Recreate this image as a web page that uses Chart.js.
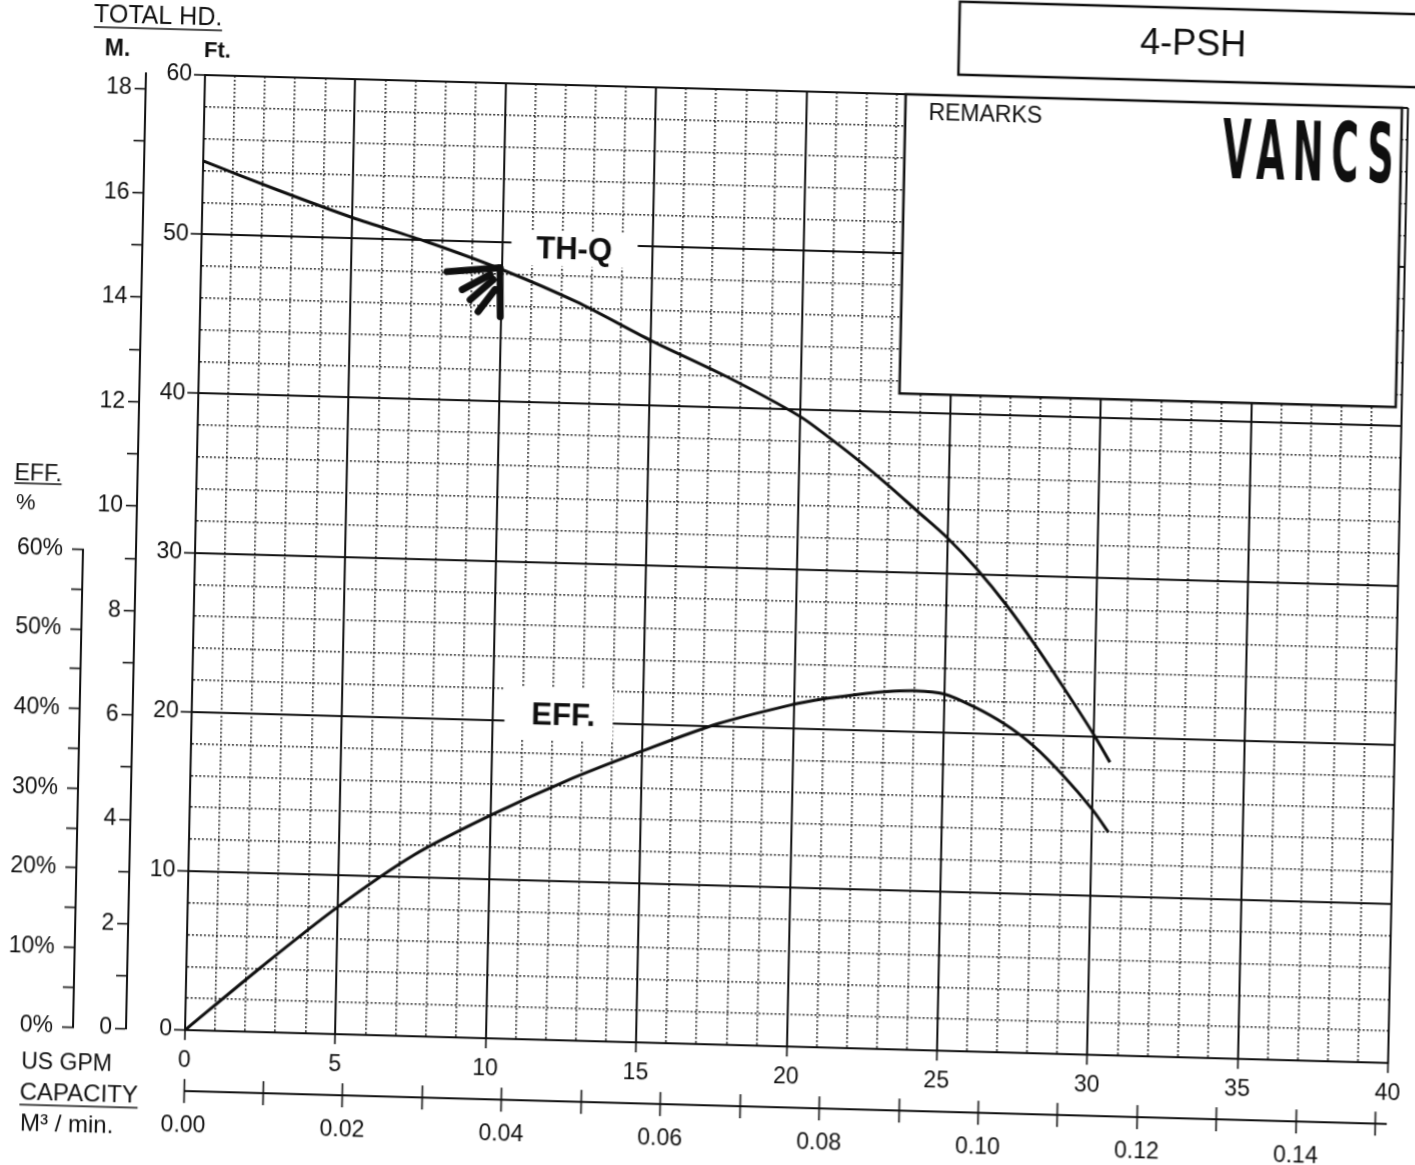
<!DOCTYPE html>
<html lang="en">
<head>
<meta charset="UTF-8">
<meta name="viewport" content="width=device-width, initial-scale=1.0">
<title>4-PSH</title>
<script src="https://cdn.jsdelivr.net/npm/chart.js@4.4.2/dist/chart.umd.min.js"></script>
<style>
    html, body { margin: 0; padding: 0; background: #fff; overflow: hidden; }
    /* the sheet was scanned a little crooked, so the whole drawing is tilted the same way */
    #sheet {
        position: absolute; left: 0; top: -40px;
        width: 1440px; height: 1245px;
        background: #fff;
        transform-origin: 185px 1070px;
        transform: matrix(1, 0.0274, -0.0209, 1, 0, 0);
    }
</style>
</head>
<body>

<div id="sheet"><canvas id="pumpchart"></canvas></div>

<script>
    // values
    const flowGpm = [0, 2.5, 5, 7.5, 10, 12.5, 15, 17.5, 20, 21, 22, 23, 24, 25, 26, 27, 28, 29, 30, 30.55];
    const headFt  = [54.6, 52.9, 51.3, 49.9, 48.3, 46.4, 44.1, 42.0, 39.6, 38.3, 36.9, 35.4, 33.8, 32.2, 30.3, 28.1, 25.6, 22.9, 20.1, 18.4];
    const effPct  = [0, 8.2, 16, 22.8, 28, 32.6, 36.6, 40.3, 43, 43.8, 44.4, 44.9, 45.1, 44.8, 43.3, 41.3, 38.6, 35, 30.8, 28];

    // tick labels
    const gpmTicks = [0, 5, 10, 15, 20, 25, 30, 35, 40];
    const ftTicks  = [0, 10, 20, 30, 40, 50, 60];
    const mTicks   = [0, 2, 4, 6, 8, 10, 12, 14, 16, 18];
    const effTicks = [0, 10, 20, 30, 40, 50, 60];
    const capTicks = ['0.00', '0.02', '0.04', '0.06', '0.08', '0.10', '0.12', '0.14'];

    const FT_PER_M = 3.28084;
    const M3MIN_PER_GPM = 0.00378541;

    const ink = '#0f0f0f';
    const face = '"Liberation Sans", Arial, sans-serif';
    const dotted = [1.8, 2.2];

    const isStep = (v, step) => Math.abs(v / step - Math.round(v / step)) < 1e-6;
    const steps = (n, step) => Array.from({length: n + 1}, (_, i) => ({value: +(i * step).toFixed(4)}));

    // solid lines on major steps, dotted in between
    function sheetGrid(step, tickLength) {
        return {
            color: c => c.tick && isStep(c.tick.value, step) ? ink : '#111',
            lineWidth: c => c.tick && isStep(c.tick.value, step) ? 2 : 1.6,
            tickColor: c => c.tick && isStep(c.tick.value, step) ? ink : 'rgba(0,0,0,0)',
            tickWidth: 1.6,
            tickLength: tickLength
        };
    }
    function sheetBorder(step) {
        return {
            color: ink, width: 2,
            dash: c => c.tick && !isStep(c.tick.value, step) ? dotted : []
        };
    }

    function write(ctx, str, x, y, size, opts) {
        opts = opts || {};
        const align = opts.align || 'center';
        ctx.font = (opts.bold ? 'bold ' : '') + size + 'px ' + face;
        ctx.textAlign = align;
        ctx.textBaseline = 'middle';
        ctx.fillStyle = ink;
        ctx.fillText(str, x, y);
        if (opts.underline) {
            const w = ctx.measureText(str).width;
            const x0 = align === 'center' ? x - w / 2 : (align === 'right' ? x - w : x);
            ctx.strokeStyle = ink;
            ctx.lineWidth = 1.6;
            ctx.beginPath();
            ctx.moveTo(x0, y + opts.underline);
            ctx.lineTo(x0 + w, y + opts.underline);
            ctx.stroke();
        }
    }

    // white gaps where the curve names sit on the grid: [gpm0, gpm1, ft0, ft1]
    const thqGap = [10.3, 14.5, 48.6, 50.7];
    const effGap = [10.4, 14.0, 18.85, 22.1];
    const remarksBox = [23.3, 39.8, 41.2, 60];
    // the pen mark next to the TH-Q curve
    const penMark = [
        [[8.18, 48.07], [9.94, 48.41]],
        [[9.94, 48.41], [9.98, 45.33]],
        [[8.70, 46.97], [9.62, 47.96]],
        [[8.97, 46.35], [9.72, 47.65]],
        [[9.24, 45.61], [9.79, 47.03]]
    ];

    const sheetDecor = {
        id: 'sheetDecor',
        beforeDatasetsDraw(chart) {
            const {ctx, scales: {x, y}} = chart;
            ctx.save();
            ctx.fillStyle = '#fff';
            [thqGap, effGap].forEach(g => {
                const l = x.getPixelForValue(g[0]), r = x.getPixelForValue(g[1]);
                const b = y.getPixelForValue(g[2]), t = y.getPixelForValue(g[3]);
                ctx.fillRect(l, t, r - l, b - t);
            });
            // remarks panel
            const l = x.getPixelForValue(remarksBox[0]), r = x.getPixelForValue(remarksBox[1]);
            const b = y.getPixelForValue(remarksBox[2]), t = y.getPixelForValue(remarksBox[3]);
            ctx.fillRect(l, t - 1, r - l, b - t + 1);
            ctx.strokeStyle = ink;
            ctx.lineWidth = 2.5;
            ctx.strokeRect(l, t, r - l, b - t);
            write(ctx, 'REMARKS', x.getPixelForValue(24.07), y.getPixelForValue(58.8), 23, {align: 'left'});

            // logo
            ctx.font = 'bold 82px "DejaVu Sans Condensed", "DejaVu Sans", sans-serif';
            ctx.letterSpacing = '16px';
            const w = ctx.measureText('VANCS').width - 16;
            ctx.translate(x.getPixelForValue(36.7) - 85, y.getPixelForValue(57.2));
            ctx.scale(171 / w, 1);
            ctx.textAlign = 'left';
            ctx.textBaseline = 'alphabetic';
            ctx.fillStyle = ink;
            ctx.fillText('VANCS', 0, 30);
            ctx.restore();
        },
        afterDatasetsDraw(chart) {
            const {ctx, scales: {x, y}} = chart;
            ctx.save();
            write(ctx, 'TH-Q', x.getPixelForValue(12.39), y.getPixelForValue(49.6), 31, {bold: true});
            write(ctx, 'EFF.', x.getPixelForValue(12.35), y.getPixelForValue(20.3), 31, {bold: true});
            ctx.strokeStyle = ink;
            ctx.lineWidth = 7;
            ctx.lineCap = 'round';
            penMark.forEach(s => {
                ctx.beginPath();
                ctx.moveTo(x.getPixelForValue(s[0][0]), y.getPixelForValue(s[0][1]));
                ctx.lineTo(x.getPixelForValue(s[1][0]), y.getPixelForValue(s[1][1]));
                ctx.stroke();
            });
            ctx.restore();
        },
        afterDraw(chart) {
            const {ctx, scales} = chart;
            ctx.save();
            ctx.strokeStyle = ink;
            ctx.lineWidth = 2;

            // efficiency scale only runs 0-60 %
            const e = scales.yEff;
            ctx.beginPath();
            ctx.moveTo(e.right - 1, e.getPixelForValue(0) + 1);
            ctx.lineTo(e.right - 1, e.getPixelForValue(60));
            ctx.stroke();

            // capacity rule, ticks cross it
            const c = scales.xCap;
            ctx.beginPath();
            ctx.moveTo(c.left, c.top + 12);
            ctx.lineTo(c.right, c.top + 12);
            ctx.stroke();

            // model box
            ctx.lineWidth = 2.5;
            ctx.strokeRect(938, 21, 600, 73);
            write(ctx, '4-PSH', 1172, 58, 36);

            write(ctx, 'TOTAL HD.', 137, 58, 25, {underline: 12});
            write(ctx, 'M.', 97, 92, 23, {bold: true});
            write(ctx, 'Ft.', 197, 91, 22, {bold: true});
            write(ctx, 'EFF.', 3, 519, 23, {align: 'left', underline: 9});
            write(ctx, '%', 5, 548, 22, {align: 'left'});
            write(ctx, 'US GPM', 22, 1107, 23, {align: 'left'});
            write(ctx, 'CAPACITY', 21, 1137, 24, {align: 'left', underline: 12});
            write(ctx, 'M³ / min.', 22, 1168, 24, {align: 'left'});
            ctx.restore();
        }
    };

    const tickFont = {family: face, size: 23};

    const curveStyle = {
        borderColor: ink,
        borderWidth: 3,
        pointRadius: 0,
        tension: 0.3,
        fill: false
    };

    new Chart(document.getElementById('pumpchart'), {
        type: 'line',
        data: {
            datasets: [Object.assign({
                label: 'TH-Q',
                data: flowGpm.map((q, i) => ({x: q, y: headFt[i]})),
                xAxisID: 'x',
                yAxisID: 'y'
            }, curveStyle), Object.assign({
                label: 'EFF.',
                data: flowGpm.map((q, i) => ({x: q, y: effPct[i]})),
                xAxisID: 'x',
                yAxisID: 'yEff'
            }, curveStyle)]
        },
        options: {
            responsive: true,
            maintainAspectRatio: false,
            devicePixelRatio: 1,
            animation: false,
            events: [],
            layout: {autoPadding: false, padding: {left: 0, top: 115, right: 52, bottom: 46}},
            plugins: {legend: {display: false}, tooltip: {enabled: false}},
            scales: {
                x: {
                    type: 'linear', position: 'bottom', weight: 1, min: 0, max: 40,
                    afterFit: s => { s.height = 49; },
                    ticks: {
                        stepSize: 1, autoSkip: false, maxRotation: 0, padding: 7, color: ink, font: tickFont,
                        callback: v => gpmTicks.includes(v) ? String(v) : ''
                    },
                    grid: sheetGrid(5, 10),
                    border: sheetBorder(5)
                },
                xCap: {
                    type: 'linear', position: 'bottom', weight: 2, min: 0, max: 40 * M3MIN_PER_GPM,
                    afterBuildTicks: s => { s.ticks = steps(15, 0.01); },
                    afterFit: s => { s.height = 80; },
                    ticks: {
                        autoSkip: false, maxRotation: 0, padding: 9, color: ink, font: tickFont,
                        callback: v => capTicks.includes(v.toFixed(2)) ? v.toFixed(2) : ''
                    },
                    grid: {drawOnChartArea: false, tickLength: 24, tickColor: ink, tickWidth: 1.6},
                    border: {display: false}
                },
                y: {
                    type: 'linear', position: 'left', weight: 1, min: 0, max: 60,
                    afterFit: s => { s.width = 59; },
                    ticks: {
                        stepSize: 2, autoSkip: false, padding: 2, color: ink, font: tickFont,
                        callback: v => ftTicks.includes(v) ? String(v) : ''
                    },
                    grid: sheetGrid(10, 11),
                    border: sheetBorder(10)
                },
                yM: {
                    type: 'linear', position: 'left', weight: 2, min: 0, max: 60 / FT_PER_M,
                    afterBuildTicks: s => { s.ticks = steps(18, 1); },
                    afterFit: s => { s.width = 52; },
                    ticks: {
                        autoSkip: false, padding: 3, color: ink, font: tickFont,
                        callback: v => mTicks.includes(v) ? String(v) : ''
                    },
                    grid: {drawOnChartArea: false, tickLength: 11, tickColor: ink, tickWidth: 1.6},
                    border: {color: ink, width: 2}
                },
                yEff: {
                    // 60 % lines up with 30 ft on this sheet
                    type: 'linear', position: 'left', weight: 3, min: 0, max: 120,
                    afterBuildTicks: s => { s.ticks = steps(12, 5); },
                    afterFit: s => { s.width = 74; },
                    ticks: {
                        autoSkip: false, padding: 9, color: ink, font: tickFont,
                        callback: v => effTicks.includes(v) ? v + '%' : ''
                    },
                    grid: {drawOnChartArea: false, tickLength: 12, tickColor: ink, tickWidth: 1.6},
                    border: {display: false}
                }
            }
        },
        plugins: [sheetDecor]
    });
</script>
</body>
</html>
